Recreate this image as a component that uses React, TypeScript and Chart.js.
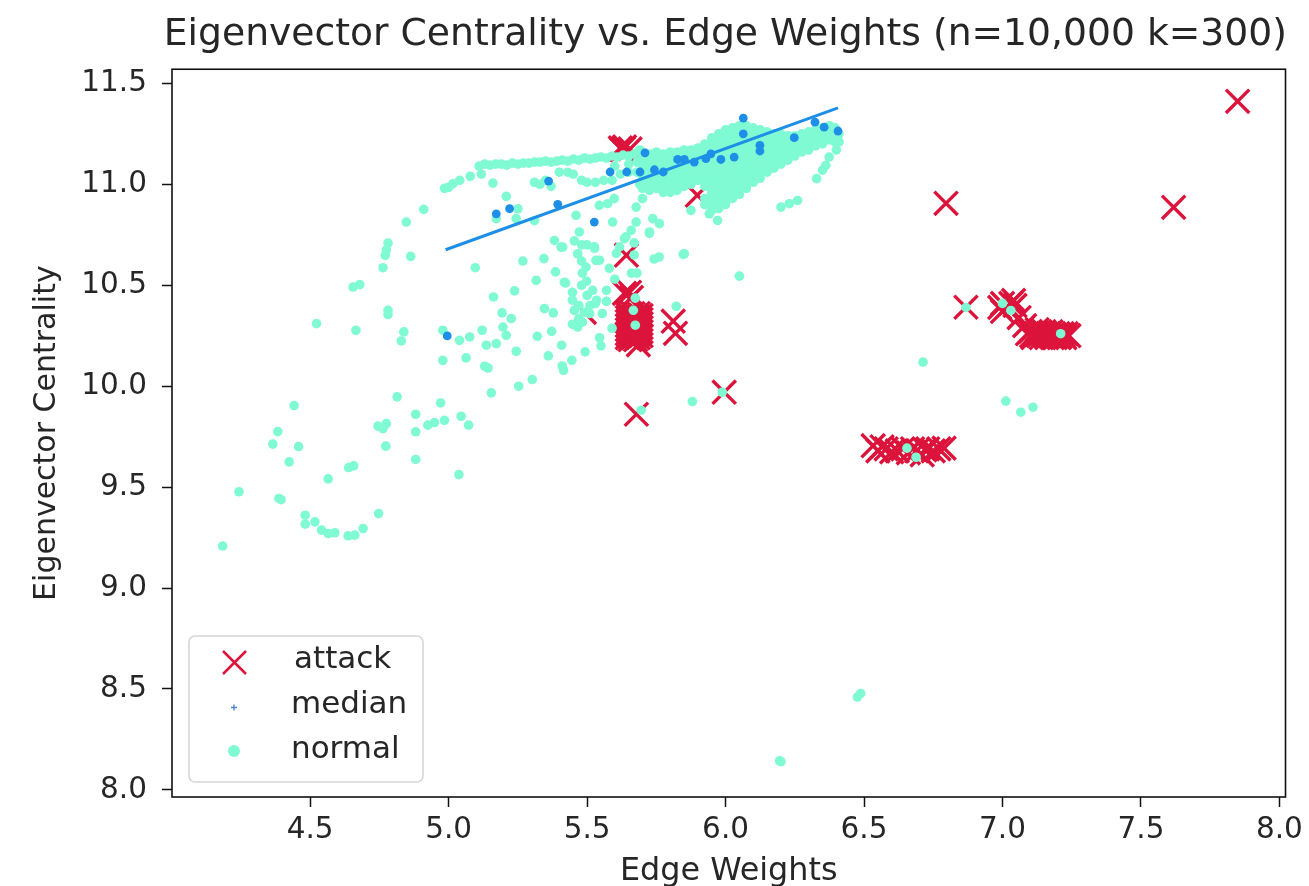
import React, { useEffect, useRef } from "react";
import { Chart, registerables } from "chart.js";

Chart.register(...registerables);

const chartTitle = "Eigenvector Centrality vs. Edge Weights (n=10,000 k=300)";
const xTitle = "Edge Weights";
const yTitle = "Eigenvector Centrality";

type Pair = [number, number];

const attackPoints: Pair[] = [
  [7.849, 11.411], [7.618, 10.886], [6.796, 10.906], [6.868, 10.391], [5.995, 9.97], [5.678, 9.861],
  [5.898, 10.946], [5.642, 10.649], [5.811, 10.322], [5.819, 10.262], [5.62, 11.18], [5.625, 11.172], [5.63, 11.176], [5.635, 11.185],
  [5.655, 11.175], [5.49, 10.366], [5.653, 10.465], [5.635, 10.46], [5.66, 10.44], [5.685, 10.205],
  [5.645, 10.24], [5.645, 10.26], [5.645, 10.28], [5.645, 10.3], [5.645, 10.32], [5.645, 10.34], [5.645, 10.36],
  [5.655, 10.23], [5.655, 10.25], [5.655, 10.27], [5.655, 10.29], [5.655, 10.31], [5.655, 10.33], [5.655, 10.35],
  [5.665, 10.24], [5.665, 10.26], [5.665, 10.28], [5.665, 10.3], [5.665, 10.32], [5.665, 10.34], [5.665, 10.36],
  [5.675, 10.23], [5.675, 10.25], [5.675, 10.27], [5.675, 10.29], [5.675, 10.31], [5.675, 10.33], [5.675, 10.35],
  [5.685, 10.24], [5.685, 10.26], [5.685, 10.28], [5.685, 10.3], [5.685, 10.32], [5.685, 10.34], [5.685, 10.36],
  [5.695, 10.25], [5.695, 10.27], [5.695, 10.29], [5.695, 10.31], [5.695, 10.33], [5.695, 10.35],
  [6.533, 9.705], [6.55, 9.68], [6.565, 9.7], [6.58, 9.69], [6.6, 9.675], [6.62, 9.68], [6.64, 9.69], [6.66, 9.67],
  [6.675, 9.69], [6.69, 9.68], [6.71, 9.66], [6.72, 9.685], [6.73, 9.69], [6.75, 9.68], [6.77, 9.69], [6.789, 9.693],
  [6.99, 10.39], [7.0, 10.37], [7.0, 10.41], [7.03, 10.41], [7.04, 10.425], [7.045, 10.4], [7.06, 10.34], [7.08, 10.3],
  [7.09, 10.26], [7.1, 10.27], [7.105, 10.25], [7.11, 10.24], [7.12, 10.26], [7.125, 10.28], [7.13, 10.25],
  [7.135, 10.27], [7.14, 10.24], [7.145, 10.26], [7.15, 10.27], [7.155, 10.25], [7.16, 10.24], [7.165, 10.26],
  [7.17, 10.25], [7.175, 10.27], [7.18, 10.24], [7.185, 10.26], [7.19, 10.24], [7.195, 10.25], [7.2, 10.26],
  [7.205, 10.24], [7.21, 10.25], [7.215, 10.26], [7.22, 10.25], [7.225, 10.24], [7.23, 10.26], [7.24, 10.25],
];

const medianPoints: Pair[] = [
  [4.995, 10.249], [6.064, 11.328], [6.064, 11.25], [6.124, 11.193], [6.124, 11.165], [6.248, 11.231],
  [6.323, 11.308], [6.356, 11.283], [6.406, 11.264], [5.709, 11.156], [5.361, 11.016], [5.394, 10.901],
  [5.172, 10.854], [5.22, 10.879], [5.526, 10.813], [5.583, 11.061], [5.643, 11.061], [5.691, 11.061],
  [5.743, 11.072], [5.775, 11.061], [5.827, 11.123], [5.851, 11.123], [5.887, 11.11], [5.929, 11.127],
  [5.947, 11.151], [5.983, 11.123], [6.031, 11.135],
];

const normalSparse: Pair[] = [
  [4.184, 9.208], [4.243, 9.477], [4.387, 9.444], [4.395, 9.438], [4.365, 9.713], [4.383, 9.775], [4.458, 9.701],
  [4.424, 9.625], [4.442, 9.904], [4.482, 9.361], [4.482, 9.317], [4.517, 9.328], [4.541, 9.287],
  [4.565, 9.27], [4.589, 9.274], [4.637, 9.259], [4.661, 9.262], [4.691, 9.295], [4.747, 9.369],
  [4.565, 9.541], [4.639, 9.597], [4.657, 9.605], [4.773, 9.703], [4.745, 9.802], [4.775, 9.815],
  [4.763, 9.79], [4.881, 9.637], [4.881, 9.774], [4.881, 9.861], [4.814, 9.947], [4.971, 9.917],
  [4.925, 9.807], [4.949, 9.82], [4.985, 9.831], [5.045, 9.851], [5.072, 9.807], [5.037, 9.562],
  [5.154, 9.967], [5.253, 10.0], [5.302, 10.033], [5.415, 10.079], [5.41, 10.1], [5.445, 10.128], [5.493, 10.17],
  [5.36, 10.15], [5.408, 10.203], [5.32, 10.247], [5.372, 10.272], [5.244, 10.173], [4.979, 10.128],
  [5.063, 10.14], [5.13, 10.099], [5.142, 10.09], [4.523, 10.31], [4.665, 10.277], [4.829, 10.224], [4.838, 10.269],
  [4.781, 10.376], [4.781, 10.355], [4.655, 10.491], [4.679, 10.503], [4.763, 10.587], [4.771, 10.648], [4.781, 10.709],
  [4.775, 10.675], [4.863, 10.643], [4.847, 10.813], [4.91, 10.876], [4.979, 10.277], [5.039, 10.227], [5.076, 10.244],
  [5.121, 10.277], [5.136, 10.203], [5.172, 10.211], [5.208, 10.252], [5.196, 10.293], [5.226, 10.335],
  [5.193, 10.363], [5.162, 10.442], [5.238, 10.472], [5.096, 10.587], [5.268, 10.62], [5.344, 10.632],
  [5.316, 10.524], [5.386, 10.566], [5.346, 10.384], [5.378, 10.363], [5.422, 10.511], [5.454, 10.376],
  [5.466, 10.293], [5.406, 10.689], [5.382, 10.722], [5.46, 10.846], [5.418, 10.515], [5.447, 10.465],
  [5.55, 10.2], [5.545, 10.24], [5.483, 10.317], [5.509, 10.36], [5.555, 10.36], [5.57, 10.475],
  [5.52, 10.475], [5.483, 10.56], [5.527, 10.683], [5.58, 10.584], [5.545, 10.624], [5.64, 10.74],
  [5.67, 10.71], [5.606, 10.658], [5.67, 10.65], [5.725, 10.757], [5.59, 10.287], [5.498, 10.52],
  [5.57, 10.42], [5.6, 10.53], [5.48, 10.62], [5.5, 10.7], [5.48, 10.7], [5.5, 10.45], [5.48, 10.5],
  [5.447, 10.426], [5.534, 10.426], [5.47, 10.4], [5.51, 10.4], [5.447, 10.307], [5.47, 10.335], [5.49, 10.366],
  [5.53, 10.41],
  [5.674, 10.302], [5.667, 10.376], [5.674, 10.436], [6.05, 10.545], [5.822, 10.396], [5.88, 9.924],
  [5.988, 9.97], [5.695, 9.881], [5.68, 10.56], [5.66, 10.56], [5.76, 10.64], [5.742, 10.63], [5.847, 10.653],
  [6.868, 10.39], [7.0, 10.41], [7.03, 10.375], [7.21, 10.26], [6.713, 10.119], [7.012, 9.926],
  [7.066, 9.871], [7.11, 9.896], [6.655, 9.693], [6.688, 9.648], [6.476, 8.46], [6.488, 8.478],
  [6.195, 8.144], [6.2, 8.14],
  [5.677, 10.887], [5.7, 10.929], [5.737, 10.83], [5.761, 10.805], [5.725, 10.764], [5.659, 10.772],
  [5.635, 10.731], [5.677, 10.813], [5.617, 10.69], [5.472, 10.764], [5.454, 10.72], [5.466, 10.656],
  [5.496, 10.59], [5.532, 10.623], [5.412, 10.689], [5.574, 10.904], [5.598, 10.929], [5.544, 10.896],
  [5.592, 10.813], [5.526, 10.69], [5.851, 10.656], [4.985, 10.98], [5.0, 10.985], [5.016, 11.003], [5.04, 11.02],
  [5.078, 11.04], [5.118, 11.05], [5.16, 11.006], [5.208, 10.94], [5.172, 10.83], [5.25, 10.879],
  [5.31, 10.82], [5.244, 10.83], [5.875, 10.871], [5.971, 10.821], [5.941, 10.854],
  [6.2, 10.887], [6.23, 10.904], [6.26, 10.92], [6.329, 11.028], [6.35, 11.07], [6.362, 11.094],
  [6.374, 11.135], [6.4, 11.17], [6.41, 11.21], [6.41, 11.25],
];

const normalBand: Pair[] = [
  [5.11, 11.09], [5.13, 11.1], [5.15, 11.095], [5.17, 11.1], [5.19, 11.1], [5.21, 11.095], [5.23, 11.105],
  [5.25, 11.1], [5.27, 11.105], [5.29, 11.105], [5.31, 11.11], [5.33, 11.11], [5.35, 11.115], [5.37, 11.11],
  [5.39, 11.115], [5.41, 11.12], [5.43, 11.115], [5.45, 11.125], [5.47, 11.12], [5.49, 11.13], [5.51, 11.125],
  [5.53, 11.13], [5.55, 11.135], [5.57, 11.13], [5.59, 11.14], [5.61, 11.135], [5.63, 11.145], [5.65, 11.14],
  [5.67, 11.15], [5.31, 11.01], [5.33, 11.0], [5.35, 11.02], [5.37, 10.99], [5.4, 11.06], [5.43, 11.06],
  [5.45, 11.05], [5.48, 11.02], [5.5, 11.01], [5.53, 11.01], [5.56, 11.02], [5.59, 11.02], [5.62, 11.05],
  [5.65, 11.06], [5.68, 11.06], [5.69, 11.0], [5.6, 11.09], [5.65, 11.1], [5.68, 11.11], [5.69, 11.17],
];

const wedgeColumns: [number, number[]][] = [
  [5.7, [10.98, 11.01, 11.04, 11.07, 11.1, 11.13, 11.16]],
  [5.725, [10.97, 11.0, 11.03, 11.06, 11.09, 11.12, 11.15]],
  [5.75, [10.98, 11.01, 11.04, 11.07, 11.1, 11.13, 11.16]],
  [5.775, [10.96, 10.99, 11.02, 11.05, 11.08, 11.11, 11.15]],
  [5.8, [10.96, 10.99, 11.02, 11.05, 11.08, 11.11, 11.14, 11.16]],
  [5.825, [10.97, 11.0, 11.03, 11.06, 11.09, 11.12, 11.16]],
  [5.85, [10.99, 11.02, 11.05, 11.08, 11.11, 11.14, 11.17]],
  [5.875, [11.0, 11.03, 11.06, 11.09, 11.12, 11.15, 11.17]],
  [5.9, [11.02, 11.05, 11.08, 11.11, 11.14, 11.18]],
  [5.925, [10.9, 10.93, 10.99, 11.02, 11.05, 11.08, 11.11, 11.14, 11.17, 11.2]],
  [5.95, [10.87, 10.9, 10.93, 10.96, 10.99, 11.02, 11.05, 11.08, 11.11, 11.14, 11.17, 11.2, 11.23]],
  [5.975, [10.88, 10.91, 10.94, 10.97, 11.0, 11.03, 11.06, 11.09, 11.12, 11.15, 11.18, 11.21, 11.25]],
  [6.0, [10.9, 10.93, 10.96, 10.99, 11.02, 11.05, 11.08, 11.11, 11.14, 11.17, 11.2, 11.23, 11.27]],
  [6.025, [10.93, 10.96, 10.99, 11.02, 11.05, 11.08, 11.11, 11.14, 11.17, 11.2, 11.23, 11.26, 11.28]],
  [6.05, [10.95, 10.98, 11.01, 11.04, 11.07, 11.1, 11.13, 11.16, 11.19, 11.22, 11.25, 11.29]],
  [6.075, [10.98, 11.01, 11.04, 11.07, 11.1, 11.13, 11.16, 11.19, 11.22, 11.25, 11.29]],
  [6.1, [11.01, 11.04, 11.07, 11.1, 11.13, 11.16, 11.19, 11.22, 11.25, 11.28]],
  [6.125, [11.03, 11.06, 11.09, 11.12, 11.15, 11.18, 11.21, 11.24, 11.27]],
  [6.15, [11.06, 11.09, 11.12, 11.15, 11.18, 11.21, 11.24, 11.26]],
  [6.175, [11.08, 11.11, 11.14, 11.17, 11.2, 11.23, 11.25]],
  [6.2, [11.1, 11.13, 11.16, 11.19, 11.22, 11.25]],
  [6.225, [11.12, 11.15, 11.18, 11.21, 11.24]],
  [6.25, [11.14, 11.17, 11.2, 11.24]],
  [6.275, [11.16, 11.19, 11.22, 11.25]],
  [6.3, [11.17, 11.2, 11.23, 11.26]],
  [6.325, [11.19, 11.22, 11.25, 11.27]],
  [6.35, [11.2, 11.23, 11.26, 11.28]],
  [6.375, [11.22, 11.25, 11.29]],
  [6.395, [11.21, 11.24, 11.28]],
];

const normalWedge: Pair[] = wedgeColumns.flatMap(([x, ys]) => ys.map((y): Pair => [x, y]));
const normalPoints: Pair[] = [...normalSparse, ...normalBand, ...normalWedge];

const fitLine: Pair[] = [[4.989, 10.676], [6.406, 11.379]];

const legendLabels = ["attack", "median", "normal"];
const textColor = "#262626";
const crimson = "#dc143c";
const blue = "#1e8fe6";
const aqua = "#7ffad2";

const toXY = (p: Pair[]) => p.map(([x, y]) => ({ x, y }));

const frameAndLegend = {
  id: "frameAndLegend",
  afterDatasetsDraw(chart: any) {
    const { ctx, chartArea: a } = chart;
    ctx.save();
    ctx.strokeStyle = "#111";
    ctx.lineWidth = 1.6;
    ctx.strokeRect(a.left, a.top, a.right - a.left, a.bottom - a.top);

    ctx.beginPath();
    ctx.roundRect(189, 636, 234, 146, 6);
    ctx.fillStyle = "rgba(255,255,255,0.85)";
    ctx.fill();
    ctx.strokeStyle = "#d6d6d6";
    ctx.lineWidth = 1.6;
    ctx.stroke();

    // attack
    ctx.strokeStyle = crimson;
    ctx.lineWidth = 2.5;
    ctx.beginPath();
    ctx.moveTo(223, 651); ctx.lineTo(246, 674);
    ctx.moveTo(246, 651); ctx.lineTo(223, 674);
    ctx.stroke();
    // median
    ctx.strokeStyle = "#4a86c8";
    ctx.lineWidth = 1.4;
    ctx.beginPath();
    ctx.moveTo(231, 707.5); ctx.lineTo(237, 707.5);
    ctx.moveTo(234, 704.5); ctx.lineTo(234, 710.5);
    ctx.stroke();
    // normal
    ctx.fillStyle = aqua;
    ctx.beginPath();
    ctx.arc(234, 751, 6, 0, Math.PI * 2);
    ctx.fill();

    ctx.fillStyle = textColor;
    ctx.font = "31px 'DejaVu Sans'";
    ctx.textBaseline = "middle";
    ctx.textAlign = "left";
    ctx.fillText(legendLabels[0], 294, 660);
    ctx.fillText(legendLabels[1], 291, 705);
    ctx.fillText(legendLabels[2], 291, 750);
    ctx.restore();
  },
};

export default function App() {
  const ref = useRef<HTMLCanvasElement>(null);
  useEffect(() => {
    const chart = new Chart(ref.current as HTMLCanvasElement, {
      type: "scatter",
      data: {
        datasets: [
          {
            label: "fit",
            data: toXY(fitLine),
            showLine: true,
            borderColor: blue,
            borderWidth: 3,
            pointRadius: 0,
            order: 0,
          },
          {
            label: legendLabels[1],
            data: toXY(medianPoints),
            backgroundColor: blue,
            borderWidth: 0,
            pointRadius: 4.4,
            order: 1,
          },
          {
            label: legendLabels[2],
            data: toXY(normalPoints),
            backgroundColor: aqua,
            borderWidth: 0,
            pointRadius: 4.8,
            order: 2,
          },
          {
            label: legendLabels[0],
            data: toXY(attackPoints),
            pointStyle: "crossRot",
            borderColor: crimson,
            backgroundColor: crimson,
            borderWidth: 3.4,
            pointRadius: 16.5,
            order: 3,
          },
        ],
      } as any,
      options: {
        responsive: false,
        animation: false,
        devicePixelRatio: 1,
        layout: { padding: { left: 0, right: 22, top: 0, bottom: 0 } },
        plugins: {
          legend: { display: false },
          tooltip: { enabled: false },
          title: {
            display: true,
            text: chartTitle,
            align: "end",
            color: textColor,
            font: { family: "'DejaVu Sans'", size: 37.7, weight: "normal" },
            padding: { top: 13, bottom: 11 },
          },
        },
        scales: {
          x: {
            type: "linear",
            min: 4.001,
            max: 8.022,
            afterFit(s: any) { s.height = 89; },
            border: { display: false },
            grid: { drawOnChartArea: false, tickLength: 10, tickColor: "#111", tickWidth: 1.5 },
            ticks: {
              stepSize: 0.5,
              includeBounds: false,
              maxRotation: 0,
              autoSkip: false,
              color: textColor,
              padding: 6,
              font: { family: "'DejaVu Sans'", size: 29.5 },
              callback: (v: any) => Number(v).toFixed(1),
            },
            title: {
              display: true,
              text: xTitle,
              color: textColor,
              font: { family: "'DejaVu Sans'", size: 31.8 },
              padding: { top: 0, bottom: -5 },
            },
          },
          y: {
            type: "linear",
            min: 7.965,
            max: 11.57,
            afterFit(s: any) { s.width = 172; },
            border: { display: false },
            grid: { drawOnChartArea: false, tickLength: 10, tickColor: "#111", tickWidth: 1.5 },
            ticks: {
              stepSize: 0.5,
              includeBounds: false,
              autoSkip: false,
              color: textColor,
              padding: 15,
              font: { family: "'DejaVu Sans'", size: 29.5 },
              callback: (v: any) => Number(v).toFixed(1),
            },
            title: {
              display: true,
              text: yTitle,
              color: textColor,
              font: { family: "'DejaVu Sans'", size: 30 },
              padding: { top: 29, bottom: 0 },
            },
          },
        },
      } as any,
      plugins: [frameAndLegend],
    });
    return () => chart.destroy();
  }, []);
  return (
    <div style={{ position: "absolute", left: 0, top: 0, width: 1309, height: 886, background: "#fff" }}>
      <canvas ref={ref} width={1309} height={886} style={{ display: "block" }} />
    </div>
  );
}
